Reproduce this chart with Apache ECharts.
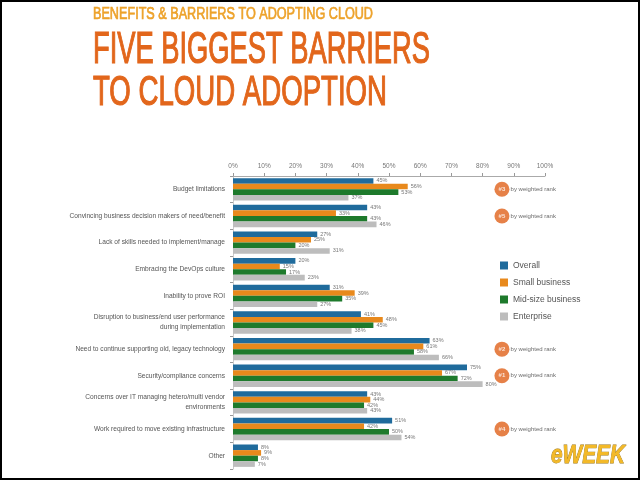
<!DOCTYPE html>
<html>
<head>
<meta charset="utf-8">
<script src="https://cdn.jsdelivr.net/npm/echarts@6/dist/echarts.min.js"></script>
<style>
  html, body { margin: 0; padding: 0; background: #fff; }
  #main { width: 640px; height: 480px; }
</style>
</head>
<body>
<div id="main"></div>
<script>
// categories (top to bottom)
var categories = [
    'Budget limitations',
    'Convincing business decision makers of need/benefit',
    'Lack of skills needed to implement/manage',
    'Embracing the DevOps culture',
    'Inability to prove ROI',
    'Disruption to business/end user performance\nduring implementation',
    'Need to continue supporting old, legacy technology',
    'Security/compliance concerns',
    'Concerns over IT managing hetero/multi vendor\nenvironments',
    'Work required to move existing infrastructure',
    'Other'
];
// percent values
var overall  = [45, 43, 27, 20, 31, 41, 63, 75, 43, 51, 8];
var smallBiz = [56, 33, 25, 15, 39, 48, 61, 67, 44, 42, 9];
var midBiz   = [53, 43, 20, 17, 35, 45, 58, 72, 42, 50, 8];
var enterprise = [37, 46, 31, 23, 27, 38, 66, 80, 43, 54, 7];
// weighted rank badges (null = none)
var ranks = [3, 5, null, null, null, null, 2, 1, null, 4, null];
var tickLabels = ['0%', '10%', '20%', '30%', '40%', '50%', '60%', '70%', '80%', '90%', '100%'];

var fontSans = '"Liberation Sans", Arial, sans-serif';

// squeeze title text into the width it has in the picture
function fitScale(text, size, weight, style, target) {
    var ctx = document.createElement('canvas').getContext('2d');
    ctx.font = style + ' ' + weight + ' ' + size + 'px ' + fontSans;
    return target / ctx.measureText(text).width;
}

var t1 = 'BENEFITS & BARRIERS TO ADOPTING CLOUD';
var t2 = 'FIVE BIGGEST BARRIERS';
var t3 = 'TO CLOUD ADOPTION';

var myChart = echarts.init(document.getElementById('main'));

var badgeData = [], badgeText = [];
ranks.forEach(function (r, i) {
    if (r != null) {
        badgeData.push({value: [86.2, i], rank: r});
        badgeText.push([88.8, i]);
    }
});

function barSeries(name, data, color) {
    return {
        name: name,
        type: 'bar',
        data: data,
        barGap: '0%',
        barCategoryGap: '16%',
        itemStyle: {color: color},
        label: {
            show: true,
            position: 'right',
            distance: 3,
            fontSize: 5.5,
            color: '#777',
            fontFamily: fontSans,
            formatter: '{c}%'
        }
    };
}

var option = {
    backgroundColor: '#fff',
    animation: false,
    grid: {left: 233, right: 95, top: 176, bottom: 11},
    legend: {
        data: ['Overall', 'Small business', 'Mid-size business', 'Enterprise'],
        orient: 'vertical',
        left: 495,
        top: 256,
        itemWidth: 8,
        itemHeight: 8,
        itemGap: 8,
        icon: 'rect',
        textStyle: {fontSize: 8.5, color: '#555', fontFamily: fontSans}
    },
    xAxis: {
        type: 'value',
        position: 'top',
        min: 0,
        max: 100,
        interval: 10,
        axisLine: {show: true, lineStyle: {color: '#aaa', width: 1}},
        axisTick: {show: true, length: 3, lineStyle: {color: '#999'}},
        splitLine: {show: false},
        axisLabel: {
            fontSize: 6.5, color: '#777', fontFamily: fontSans, margin: 6,
            formatter: function (v) { return tickLabels[v / 10]; }
        }
    },
    yAxis: {
        type: 'category',
        inverse: true,
        data: categories,
        axisLine: {show: true, lineStyle: {color: '#ccc'}},
        axisTick: {show: true, length: 3, lineStyle: {color: '#999'}},
        axisLabel: {fontSize: 6.6, color: '#555', fontFamily: fontSans, margin: 8, lineHeight: 10}
    },
    series: [
        barSeries('Overall', overall, '#1f6b9c'),
        barSeries('Small business', smallBiz, '#e8891c'),
        barSeries('Mid-size business', midBiz, '#1e7a2c'),
        barSeries('Enterprise', enterprise, '#bdbdbd'),
        {
            type: 'scatter',
            data: badgeData,
            symbolSize: 15,
            itemStyle: {color: '#e0621a'},
            z: 5,
            label: {
                show: true, position: 'inside', color: '#fff', fontSize: 6, fontWeight: 'bold',
                formatter: function (p) { return '#' + p.data.rank; }
            }
        },
        {
            type: 'scatter',
            data: badgeText,
            symbolSize: 1,
            itemStyle: {color: 'rgba(0,0,0,0)'},
            label: {
                show: true, position: 'right', distance: 0, color: '#444', fontSize: 6,
                fontFamily: fontSans, formatter: 'by weighted rank'
            }
        }
    ],
    graphic: [
        {
            type: 'text', x: 93, y: 14,
            scaleX: fitScale(t1, 16.8, 'normal', 'normal', 280),
            style: {text: t1, fontSize: 16.8, fontFamily: fontSans, fill: '#eda22a', verticalAlign: 'middle',
                    stroke: '#eda22a', lineWidth: 0.7}
        },
        {
            type: 'text', x: 93, y: 51,
            scaleX: fitScale(t2, 44.7, 'normal', 'normal', 337),
            style: {text: t2, fontSize: 44.7, fontFamily: fontSans, fill: '#e2661b', verticalAlign: 'middle',
                    stroke: '#e2661b', lineWidth: 1.2}
        },
        {
            type: 'text', x: 93, y: 93,
            scaleX: fitScale(t3, 42, 'normal', 'normal', 294),
            style: {text: t3, fontSize: 42, fontFamily: fontSans, fill: '#e2661b', verticalAlign: 'middle',
                    stroke: '#e2661b', lineWidth: 1.2}
        },
        {
            type: 'text', x: 551, y: 456,
            scaleX: fitScale('eWEEK', 25, 'bold', 'italic', 74),
            style: {
                text: 'eWEEK', fontSize: 25, fontWeight: 'bold', fontStyle: 'italic',
                fontFamily: fontSans, fill: '#f3b928', verticalAlign: 'middle',
                stroke: '#9a7414', lineWidth: 0.8,
                shadowBlur: 3, shadowColor: 'rgba(0,0,0,0.45)', shadowOffsetX: 1, shadowOffsetY: 2
            }
        },
        {
            type: 'rect', x: 0, y: 0, silent: true,
            shape: {x: 1, y: 1, width: 638, height: 478},
            style: {fill: null, stroke: '#000', lineWidth: 2}
        }
    ]
};

myChart.setOption(option);
</script>
</body>
</html>
